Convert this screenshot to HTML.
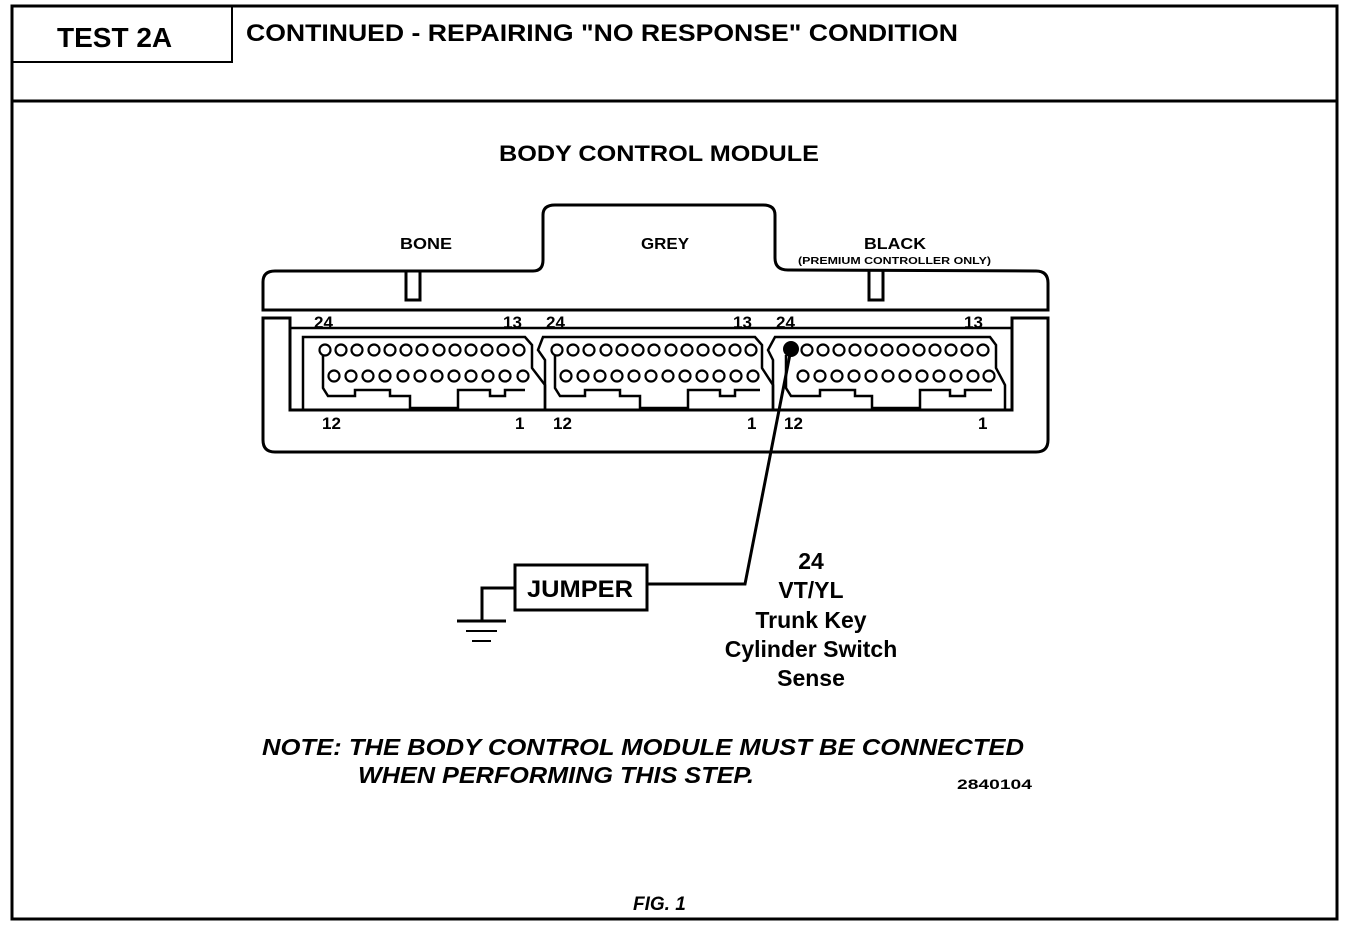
<!DOCTYPE html>
<html><head><meta charset="utf-8"><style>
html,body{margin:0;padding:0;background:#fff;}
svg{display:block;}
text{font-family:"Liberation Sans",Arial,sans-serif;font-weight:bold;fill:#000;}
</style></head><body>
<svg width="1360" height="928" viewBox="0 0 1360 928" xmlns="http://www.w3.org/2000/svg">
<rect x="0" y="0" width="1360" height="928" fill="#fff"/>
<rect x="12" y="6" width="1325" height="913" fill="none" stroke="#000" stroke-width="3"/>
<line x1="12" y1="101" x2="1337" y2="101" stroke="#000" stroke-width="3"/>
<polyline points="12,62 232,62 232,6" fill="none" stroke="#000" stroke-width="2"/>
<text x="57" y="47" font-size="28">TEST 2A</text>
<text x="246" y="41" font-size="24" textLength="712" lengthAdjust="spacingAndGlyphs">CONTINUED - REPAIRING "NO RESPONSE" CONDITION</text>
<text x="499" y="161" font-size="22" textLength="320" lengthAdjust="spacingAndGlyphs">BODY CONTROL MODULE</text>

<path d="M263,310 L263,282 Q263,271 275,271 L533,271 Q543,271 543,260 L543,215 Q543,205 555,205 L763,205 Q775,205 775,215 L775,258 Q775,270 788,270 L1036,271 Q1048,271 1048,283 L1048,310 Z" fill="none" stroke="#000" stroke-width="3"/>
<path d="M406,271 L406,300 L420,300 L420,271" fill="none" stroke="#000" stroke-width="3"/>
<path d="M869,271 L869,300 L883,300 L883,271" fill="none" stroke="#000" stroke-width="3"/>
<text x="400" y="249" font-size="16" textLength="52" lengthAdjust="spacingAndGlyphs">BONE</text>
<text x="641" y="249" font-size="16" textLength="48" lengthAdjust="spacingAndGlyphs">GREY</text>
<text x="864" y="249" font-size="16" textLength="62" lengthAdjust="spacingAndGlyphs">BLACK</text>
<text x="798" y="264" font-size="10" textLength="193" lengthAdjust="spacingAndGlyphs">(PREMIUM CONTROLLER ONLY)</text>

<path d="M263,318 L263,440 Q263,452 275,452 L1036,452 Q1048,452 1048,440 L1048,318 L1012,318 L1012,410 L290,410 L290,318 Z" fill="none" stroke="#000" stroke-width="3"/>
<line x1="290" y1="328" x2="1012" y2="328" stroke="#000" stroke-width="2.5"/>

<g fill="none" stroke="#000" stroke-width="2.5">
<path d="M303,410 L303,337 L525,337 L532,345 L532,368 L545,385 L545,410"/>
<path d="M323,355 L323,388 L328,396 L355,396 L355,390 L390,390 L390,396 L410,396 L410,408 L458,408 L458,390 L490,390 L490,396 L505,396 L505,390 L525,390"/>
<path d="M545,410 L545,360 L538,350 L543,337 L755,337 L762,345 L762,368 L773,385 L773,410"/>
<path d="M555,355 L555,388 L560,396 L585,396 L585,390 L620,390 L620,396 L640,396 L640,408 L688,408 L688,390 L720,390 L720,396 L735,396 L735,390 L760,390"/>
<path d="M773,410 L773,360 L768,350 L775,337 L990,337 L996,345 L996,368 L1005,385 L1005,410"/>
<path d="M786,355 L786,388 L791,396 L820,396 L820,390 L855,390 L855,396 L872,396 L872,408 L920,408 L920,390 L950,390 L950,396 L965,396 L965,390 L992,390"/>
</g>
<g fill="none" stroke="#000" stroke-width="2.2">
<circle cx="325" cy="350" r="5.5"/><circle cx="341" cy="350" r="5.5"/><circle cx="357" cy="350" r="5.5"/><circle cx="374" cy="350" r="5.5"/><circle cx="390" cy="350" r="5.5"/><circle cx="406" cy="350" r="5.5"/><circle cx="422" cy="350" r="5.5"/><circle cx="439" cy="350" r="5.5"/><circle cx="455" cy="350" r="5.5"/><circle cx="471" cy="350" r="5.5"/><circle cx="487" cy="350" r="5.5"/><circle cx="503" cy="350" r="5.5"/><circle cx="519" cy="350" r="5.5"/>
<circle cx="334" cy="376" r="5.5"/><circle cx="351" cy="376" r="5.5"/><circle cx="368" cy="376" r="5.5"/><circle cx="385" cy="376" r="5.5"/><circle cx="403" cy="376" r="5.5"/><circle cx="420" cy="376" r="5.5"/><circle cx="437" cy="376" r="5.5"/><circle cx="454" cy="376" r="5.5"/><circle cx="471" cy="376" r="5.5"/><circle cx="488" cy="376" r="5.5"/><circle cx="505" cy="376" r="5.5"/><circle cx="523" cy="376" r="5.5"/>
<circle cx="557" cy="350" r="5.5"/><circle cx="573" cy="350" r="5.5"/><circle cx="589" cy="350" r="5.5"/><circle cx="606" cy="350" r="5.5"/><circle cx="622" cy="350" r="5.5"/><circle cx="638" cy="350" r="5.5"/><circle cx="654" cy="350" r="5.5"/><circle cx="671" cy="350" r="5.5"/><circle cx="687" cy="350" r="5.5"/><circle cx="703" cy="350" r="5.5"/><circle cx="719" cy="350" r="5.5"/><circle cx="735" cy="350" r="5.5"/><circle cx="751" cy="350" r="5.5"/>
<circle cx="566" cy="376" r="5.5"/><circle cx="583" cy="376" r="5.5"/><circle cx="600" cy="376" r="5.5"/><circle cx="617" cy="376" r="5.5"/><circle cx="634" cy="376" r="5.5"/><circle cx="651" cy="376" r="5.5"/><circle cx="668" cy="376" r="5.5"/><circle cx="685" cy="376" r="5.5"/><circle cx="702" cy="376" r="5.5"/><circle cx="719" cy="376" r="5.5"/><circle cx="736" cy="376" r="5.5"/><circle cx="753" cy="376" r="5.5"/>
<circle cx="807" cy="350" r="5.5"/><circle cx="823" cy="350" r="5.5"/><circle cx="839" cy="350" r="5.5"/><circle cx="855" cy="350" r="5.5"/><circle cx="871" cy="350" r="5.5"/><circle cx="887" cy="350" r="5.5"/><circle cx="903" cy="350" r="5.5"/><circle cx="919" cy="350" r="5.5"/><circle cx="935" cy="350" r="5.5"/><circle cx="951" cy="350" r="5.5"/><circle cx="967" cy="350" r="5.5"/><circle cx="983" cy="350" r="5.5"/>
<circle cx="803" cy="376" r="5.5"/><circle cx="820" cy="376" r="5.5"/><circle cx="837" cy="376" r="5.5"/><circle cx="854" cy="376" r="5.5"/><circle cx="871" cy="376" r="5.5"/><circle cx="888" cy="376" r="5.5"/><circle cx="905" cy="376" r="5.5"/><circle cx="922" cy="376" r="5.5"/><circle cx="939" cy="376" r="5.5"/><circle cx="956" cy="376" r="5.5"/><circle cx="973" cy="376" r="5.5"/><circle cx="989" cy="376" r="5.5"/>
</g>
<circle cx="791" cy="349" r="8" fill="#000"/>
<g font-size="17">
<text x="314" y="328">24</text><text x="503" y="328">13</text>
<text x="546" y="328">24</text><text x="733" y="328">13</text>
<text x="776" y="328">24</text><text x="964" y="328">13</text>
<text x="322" y="429">12</text><text x="515" y="429">1</text>
<text x="553" y="429">12</text><text x="747" y="429">1</text>
<text x="784" y="429">12</text><text x="978" y="429">1</text>
</g>

<polyline points="791,349 745,584 647,584" fill="none" stroke="#000" stroke-width="3"/>
<rect x="515" y="565" width="132" height="45" fill="none" stroke="#000" stroke-width="3"/>
<text x="527" y="597" font-size="24" textLength="106" lengthAdjust="spacingAndGlyphs">JUMPER</text>
<polyline points="515,588 482,588 482,620" fill="none" stroke="#000" stroke-width="3"/>
<line x1="457" y1="621" x2="506" y2="621" stroke="#000" stroke-width="3"/>
<line x1="466" y1="631" x2="497" y2="631" stroke="#000" stroke-width="2"/>
<line x1="472" y1="641" x2="491" y2="641" stroke="#000" stroke-width="2"/>

<g font-size="23" text-anchor="middle">
<text x="811" y="569">24</text>
<text x="811" y="598">VT/YL</text>
<text x="811" y="628">Trunk Key</text>
<text x="811" y="657">Cylinder Switch</text>
<text x="811" y="686">Sense</text>
</g>
<g font-size="23" font-style="italic">
<text x="262" y="755" textLength="762" lengthAdjust="spacingAndGlyphs">NOTE:   THE BODY CONTROL MODULE MUST BE CONNECTED</text>
<text x="358" y="783" textLength="396" lengthAdjust="spacingAndGlyphs">WHEN PERFORMING THIS STEP.</text>
</g>
<text x="957" y="789" font-size="14" textLength="75" lengthAdjust="spacingAndGlyphs">2840104</text>
<text x="633" y="910" font-size="19" font-style="italic">FIG. 1</text>
</svg>
</body></html>
